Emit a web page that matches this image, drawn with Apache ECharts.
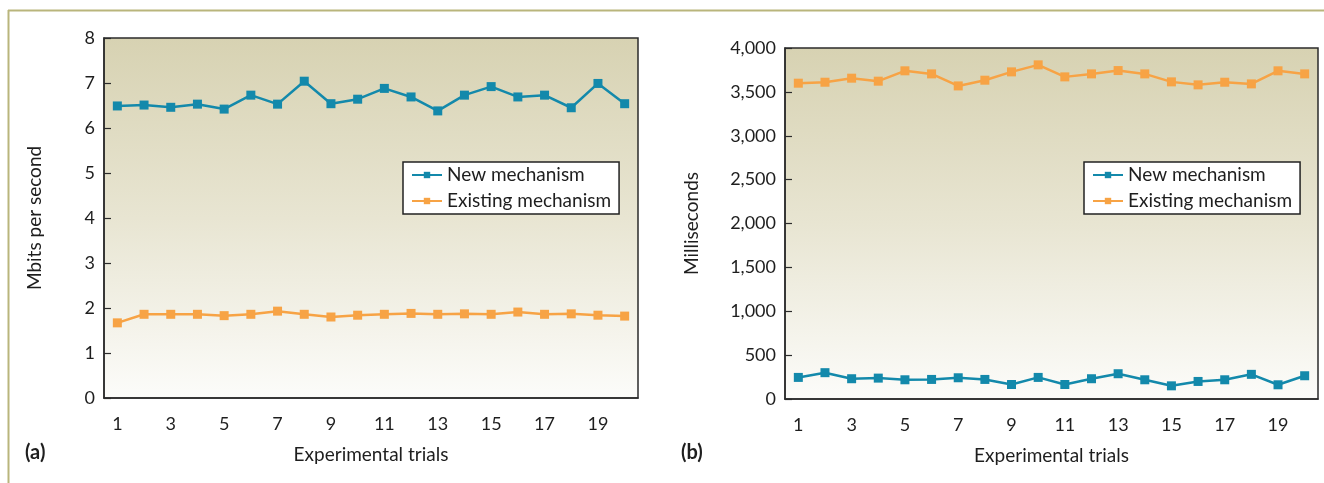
<!DOCTYPE html>
<html>
<head>
<meta charset="utf-8">
<script src="https://cdn.jsdelivr.net/npm/echarts@6/dist/echarts.min.js"></script>
<style>
html,body{margin:0;padding:0;background:#fff;}
#chart{width:1324px;height:483px;}
</style>
</head>
<body>
<div id="chart"></div>
<script>
const trials = ['1','2','3','4','5','6','7','8','9','10','11','12','13','14','15','16','17','18','19','20'];
const seriesNames = ['New mechanism', 'Existing mechanism'];
// (a) throughput, Mbits per second
const throughputNew = [6.49,6.51,6.46,6.53,6.42,6.73,6.53,7.04,6.54,6.64,6.88,6.69,6.38,6.73,6.92,6.69,6.73,6.45,6.99,6.54];
const throughputExisting = [1.67,1.86,1.86,1.86,1.83,1.86,1.93,1.86,1.80,1.84,1.86,1.88,1.86,1.87,1.86,1.91,1.86,1.87,1.84,1.82];
// (b) latency, milliseconds
const latencyNew = [246,300,231,238,219,223,242,223,165,246,165,231,288,219,150,200,219,281,162,265];
const latencyExisting = [3599,3610,3656,3622,3740,3705,3568,3633,3728,3808,3671,3705,3743,3705,3614,3580,3610,3591,3740,3705];
const panelLabels = ['(a)', '(b)'];
const axisTitlesY = ['Mbits per second', 'Milliseconds'];
const axisTitleX = 'Experimental trials';

const FONT = 'Lato';
const BLUE = '#1389ab';
const ORANGE = '#f7a345';
const AXIS = '#2b2b2b';
const TXT = '#1e1e1e';

const chart = echarts.init(document.getElementById('chart'), null, {renderer: 'canvas'});

function bg() {
  return new echarts.graphic.LinearGradient(0, 0, 0, 1, [
    {offset: 0, color: '#d7d2b2'},
    {offset: 0.5, color: '#e8e5d2'},
    {offset: 1, color: '#fcfcfa'}
  ]);
}

function xAxis(gi) {
  return {
    type: 'category', gridIndex: gi, data: trials, boundaryGap: true,
    name: axisTitleX, nameLocation: 'middle', nameGap: 47,
    nameTextStyle: {fontFamily: FONT, fontSize: 19, color: TXT},
    axisLine: {lineStyle: {color: AXIS, width: 1.5}},
    axisTick: {inside: true, length: 7, interval: 0, lineStyle: {color: AXIS, width: 1.2}},
    axisLabel: {interval: 1, fontFamily: FONT, fontSize: 18, color: TXT, margin: 17},
    splitLine: {show: false}
  };
}

function yAxis(gi, max, interval, fmt, gap) {
  return {
    type: 'value', gridIndex: gi, min: 0, max: max, interval: interval,
    name: axisTitlesY[gi], nameLocation: 'middle', nameGap: gap, nameRotate: 90,
    nameTextStyle: {fontFamily: FONT, fontSize: 19, color: TXT},
    axisLine: {show: true, lineStyle: {color: AXIS, width: 1.5}},
    axisTick: {show: true, inside: true, length: 7, lineStyle: {color: AXIS, width: 1.2}},
    axisLabel: {fontFamily: FONT, fontSize: 18, color: TXT, margin: 9, formatter: fmt},
    splitLine: {show: false}
  };
}

function lineSeries(name, color, xi, yi, data) {
  return {
    type: 'line', name: name, xAxisIndex: xi, yAxisIndex: yi, data: data,
    symbol: 'rect', symbolSize: 9, showSymbol: true,
    lineStyle: {color: color, width: 2.5},
    itemStyle: {color: color},
    animation: false
  };
}

function legend(left) {
  return {
    data: seriesNames, orient: 'vertical', left: left, top: 162,
    backgroundColor: '#fff', borderColor: '#222', borderWidth: 1.5,
    padding: [3, 8, 3, 8], itemGap: 6, itemWidth: 30, itemHeight: 8,
    textStyle: {fontFamily: FONT, fontSize: 19, color: TXT, lineHeight: 20},
    selectedMode: false
  };
}

const option = {
  animation: false,
  backgroundColor: '#fff',
  grid: [
    {left: 104, right: 686, top: 38, height: 360, show: true, backgroundColor: bg(), borderColor: AXIS, borderWidth: 1.5},
    {left: 785, right: 6, top: 48, height: 351, show: true, backgroundColor: bg(), borderColor: AXIS, borderWidth: 1.5}
  ],
  xAxis: [xAxis(0), xAxis(1)],
  yAxis: [
    yAxis(0, 8, 1, v => String(v), 60),
    yAxis(1, 4000, 500, v => v.toLocaleString('en-US'), 84)
  ],
  legend: [legend(403), legend(1084)],
  series: [
    lineSeries(seriesNames[0], BLUE, 0, 0, throughputNew),
    lineSeries(seriesNames[1], ORANGE, 0, 0, throughputExisting),
    lineSeries(seriesNames[0], BLUE, 1, 1, latencyNew),
    lineSeries(seriesNames[1], ORANGE, 1, 1, latencyExisting)
  ],
  graphic: [
    {type: 'line', shape: {x1: 8, y1: 10.5, x2: 1324, y2: 10.5}, style: {stroke: '#b9b57c', lineWidth: 2}},
    {type: 'line', shape: {x1: 8.5, y1: 10, x2: 8.5, y2: 483}, style: {stroke: '#b9b57c', lineWidth: 2}},
    {type: 'text', left: 25, top: 443, style: {text: panelLabels[0], font: 'bold 20px ' + FONT, fill: TXT}},
    {type: 'text', left: 681, top: 443, style: {text: panelLabels[1], font: 'bold 20px ' + FONT, fill: TXT}}
  ]
};
chart.setOption(option);
</script>
</body>
</html>
